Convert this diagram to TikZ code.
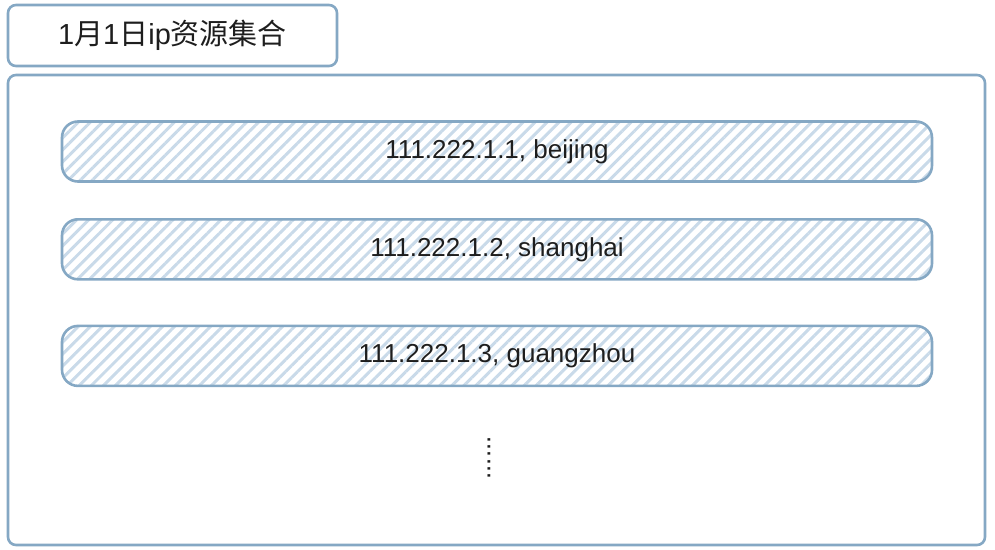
\documentclass[tikz,border=0pt]{standalone}
\usepackage{fontspec}
\setmainfont{Liberation Sans}
\newfontfamily\cjk{Noto Sans CJK SC}
\usepackage{xcolor}
\usepackage{tikz}
\usetikzlibrary{positioning,patterns.meta}
\definecolor{edgeblue}{HTML}{85A8C4}
\definecolor{hatchblue}{HTML}{C9DAE9}
\definecolor{inkgray}{HTML}{1E1E1E}
\tikzset{
  framebox/.style={draw=edgeblue, line width=2.6pt, rounded corners=8pt},
  titlebox/.style={framebox, minimum width=329pt, minimum height=61pt, text=inkgray, font=\fontsize{29}{32}\selectfont},
  ipbar/.style={draw=edgeblue, line width=2.6pt, rounded corners=16pt, minimum width=870pt, minimum height=60pt,
    pattern={Lines[angle=45,distance=8.5pt,line width=3pt]}, pattern color=hatchblue,
    text=inkgray, font=\fontsize{26}{30}\selectfont}
}
\begin{document}
\begin{tikzpicture}[x=1pt, y=-1pt]
  \useasboundingbox (0,0) rectangle (995,549);
  \node[titlebox] (title) at (172.5,35.5) {1{\cjk 月}1{\cjk 日}ip{\cjk 资源集合}};
  \node[framebox, minimum width=977pt, minimum height=470pt] (pool) at (496.5,310) {};
  \node[ipbar] (ip1) at (497,151.5) {111.222.1.1, beijing};
  \node[ipbar, below=35pt of ip1] (ip2) {111.222.1.2, shanghai};
  \node[ipbar, below=44pt of ip2] (ip3) {111.222.1.3, guangzhou};
  \node[rotate=90, text=inkgray, font=\fontsize{26}{28}\selectfont, inner sep=0pt] (more) at (489,458) {......};
\end{tikzpicture}
\end{document}
